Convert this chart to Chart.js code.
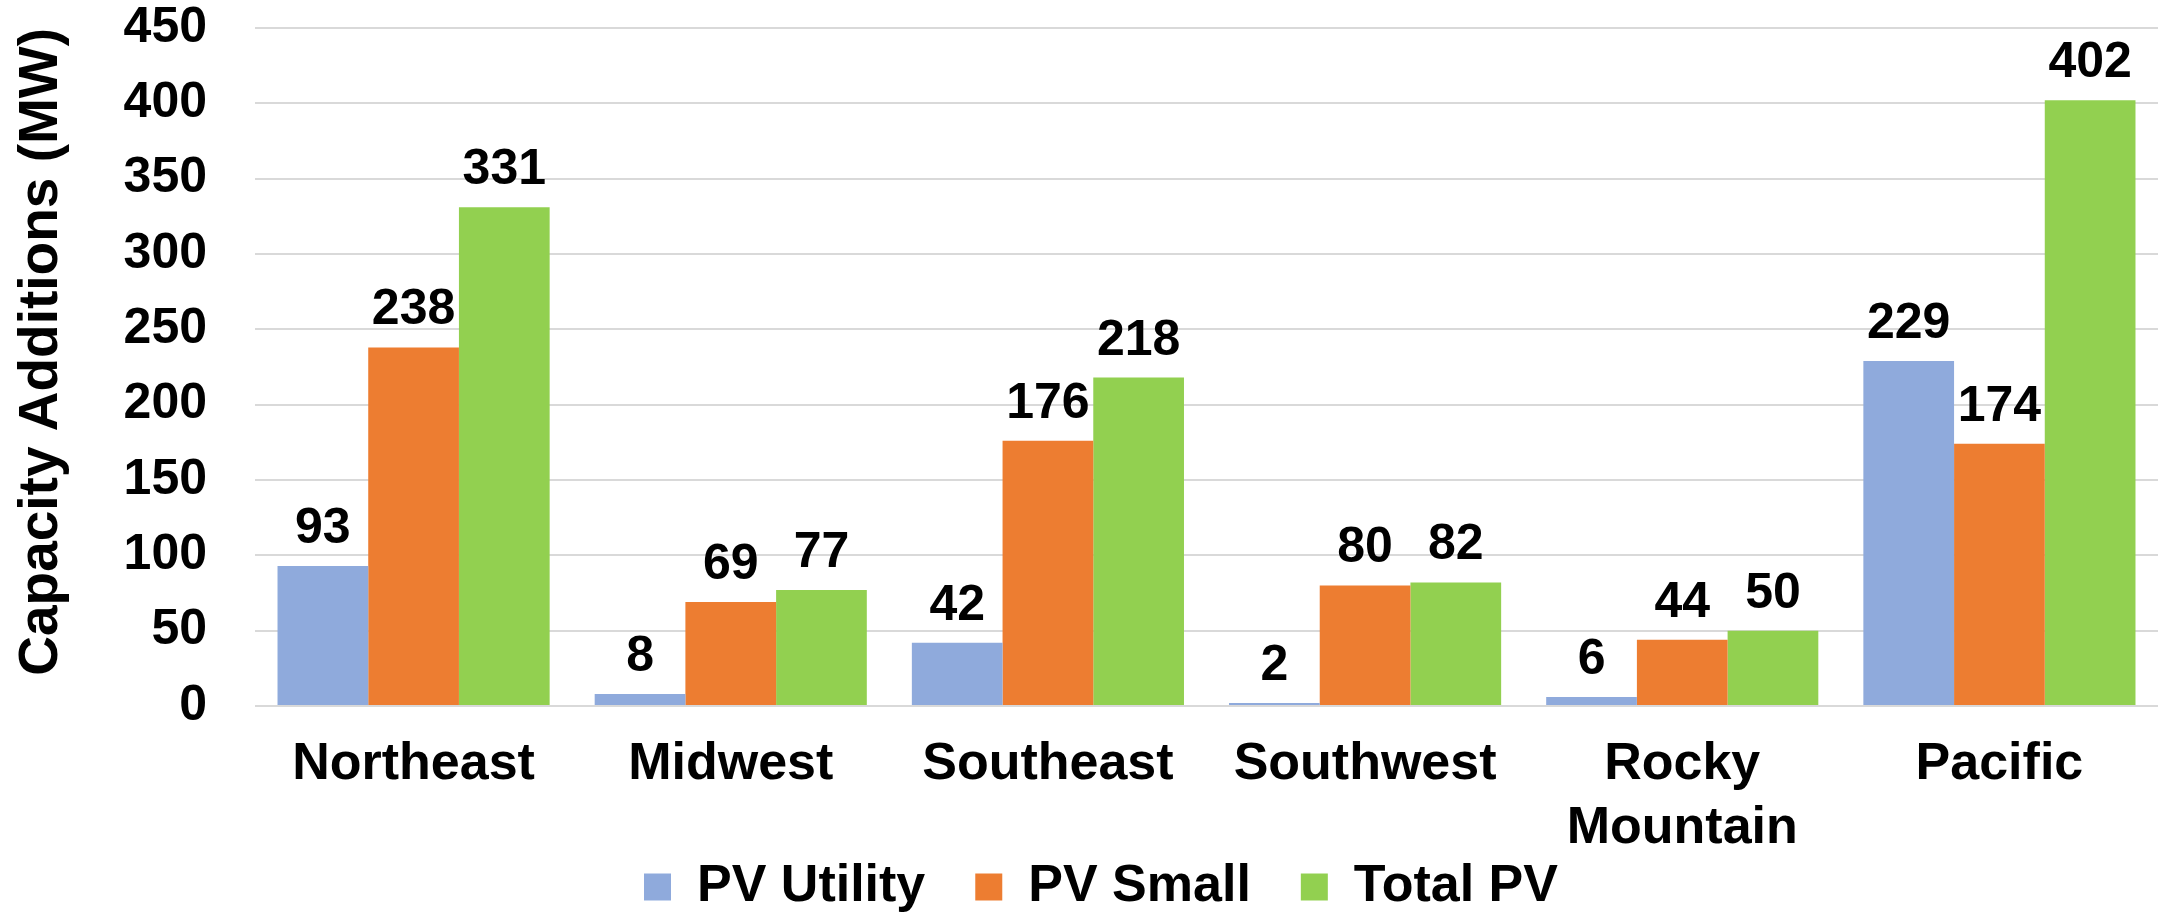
<!DOCTYPE html>
<html>
<head>
<meta charset="utf-8">
<script src="https://cdn.jsdelivr.net/npm/chart.js@4.4.0/dist/chart.umd.min.js"></script>
<style>
  html, body { margin: 0; padding: 0; background: #ffffff; }
  canvas { display: block; }
</style>
</head>
<body>
<canvas id="c" width="2165" height="919"></canvas>
<script>
// ---- Data ----
const categories = ['Northeast', 'Midwest', 'Southeast', 'Southwest', ['Rocky', 'Mountain'], 'Pacific'];
const pvUtility = [93, 8, 42, 2, 6, 229];
const pvSmall   = [238, 69, 176, 80, 44, 174];
const totalPV   = [331, 77, 218, 82, 50, 402];
const seriesNames = ['PV Utility', 'PV Small', 'Total PV'];
const yTickValues = [0, 50, 100, 150, 200, 250, 300, 350, 400, 450];
const yAxisTitle = 'Capacity Additions (MW)';

const FONT = '"Liberation Sans", Arial, Helvetica, sans-serif';

const valueLabels = {
  id: 'valueLabels',
  afterDatasetsDraw(chart) {
    const ctx = chart.ctx;
    ctx.save();
    ctx.font = 'bold 50px ' + FONT;
    ctx.fillStyle = '#000000';
    ctx.textAlign = 'center';
    ctx.textBaseline = 'alphabetic';
    chart.data.datasets.forEach((ds, i) => {
      const meta = chart.getDatasetMeta(i);
      meta.data.forEach((el, j) => {
        ctx.fillText(String(ds.data[j]), el.x, el.y - 23);
      });
    });
    ctx.restore();
  }
};

// move the legend row up so it sits just under the two-line category labels
const legendNudge = {
  id: 'legendNudge',
  afterLayout(chart) {
    const l = chart.legend;
    if (l) { l.top -= 49; }
  }
};

new Chart(document.getElementById('c'), {
  type: 'bar',
  data: {
    labels: categories,
    datasets: [
      { label: seriesNames[0], data: pvUtility, backgroundColor: '#8FAADC' },
      { label: seriesNames[1], data: pvSmall,   backgroundColor: '#ED7D31' },
      { label: seriesNames[2], data: totalPV,   backgroundColor: '#92D050' }
    ]
  },
  options: {
    responsive: false,
    animation: false,
    devicePixelRatio: 1,
    layout: { padding: { left: 44, right: 7, top: 28, bottom: 0 } },
    datasets: {
      bar: { borderWidth: 0, barPercentage: 1.0, categoryPercentage: 0.858 }
    },
    scales: {
      x: {
        grid: { display: false, drawTicks: false },
        border: { display: false },
        ticks: {
          color: '#000000',
          padding: 27,
          maxRotation: 0,
          autoSkip: false,
          font: { family: FONT, size: 52, weight: 'bold', lineHeight: 1.22 }
        },
        afterFit(s) { s.height = 154; }
      },
      y: {
        min: 0,
        max: 450,
        afterBuildTicks(s) { s.ticks = yTickValues.map(v => ({ value: v })); },
        grid: { color: '#d9d9d9', lineWidth: 2, drawTicks: true, tickLength: 45, tickColor: 'rgba(0,0,0,0)' },
        border: { display: false },
        ticks: {
          color: '#000000',
          padding: 3,
          font: { family: FONT, size: 50, weight: 'bold', lineHeight: 1.0 }
        },
        title: {
          display: true,
          text: yAxisTitle,
          align: 'end',
          color: '#000000',
          padding: { top: -35, bottom: 0 },
          font: { family: FONT, size: 55, weight: 'bold', lineHeight: 1.2 }
        },
        afterFit(s) { s.width = 211; }
      }
    },
    plugins: {
      tooltip: { enabled: false },
      legend: {
        position: 'bottom',
        maxHeight: 59,
        labels: {
          color: '#000000',
          boxWidth: 27,
          boxHeight: 27,
          padding: 50,
          font: { family: FONT, size: 52, weight: 'bold' }
        }
      }
    }
  },
  plugins: [valueLabels, legendNudge]
});
</script>
</body>
</html>
